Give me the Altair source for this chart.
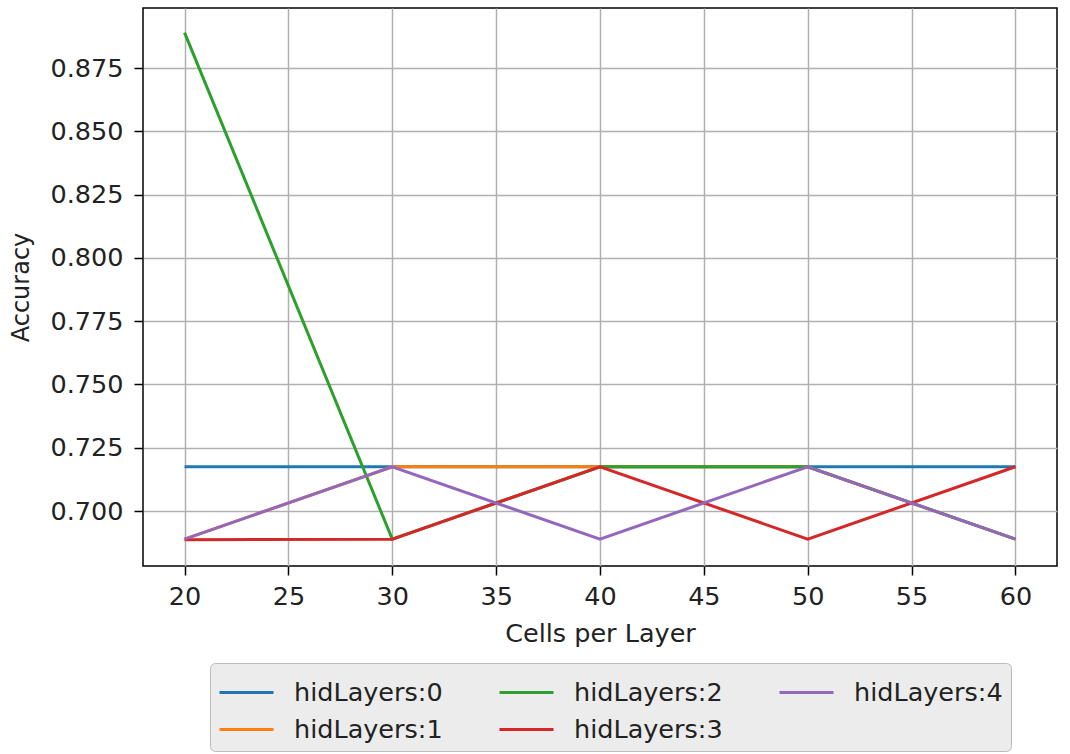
import altair as alt
import pandas as pd

cells = [20, 30, 40, 50, 60]
series_names = ["hidLayers:0", "hidLayers:1", "hidLayers:2", "hidLayers:3", "hidLayers:4"]
acc_0 = [0.7175, 0.7175, 0.7175, 0.7175, 0.7175]
acc_1 = [0.6889, 0.7175, 0.7175, 0.7175, 0.6889]
acc_2 = [0.8890, 0.6889, 0.7175, 0.7175, 0.6889]
acc_3 = [0.6887, 0.6889, 0.7175, 0.6889, 0.7175]
acc_4 = [0.6889, 0.7175, 0.6889, 0.7175, 0.6889]
colors = ["#1f77b4", "#ff7f0e", "#2ca02c", "#d62728", "#9467bd"]

rows = []
for name, vals in zip(series_names, [acc_0, acc_1, acc_2, acc_3, acc_4]):
    for c, v in zip(cells, vals):
        rows.append({"cells": c, "acc": v, "series": name})
df = pd.DataFrame(rows)

# legend is filled column by column in the reference
legend_order = [0, 2, 4, 1, 3]
dom = [series_names[i] for i in legend_order]
rng = [colors[i] for i in legend_order]

FONT = "DejaVu Sans"
FS = 25.5

chart = alt.Chart(df).mark_line(strokeWidth=3, clip=True).encode(
    x=alt.X("cells:Q", title="Cells per Layer",
            scale=alt.Scale(domain=[18, 62], nice=False, zero=False),
            axis=alt.Axis(values=[20, 25, 30, 35, 40, 45, 50, 55, 60], format="d",
                          tickSize=9, labelPadding=9, titlePadding=12)),
    y=alt.Y("acc:Q", title="Accuracy",
            scale=alt.Scale(domain=[0.6783, 0.8987], nice=False, zero=False),
            axis=alt.Axis(values=[0.700, 0.725, 0.750, 0.775, 0.800, 0.825, 0.850, 0.875],
                          format=".3f", tickSize=9, labelPadding=11, titlePadding=16,
                          titleFontSize=24)),
    color=alt.Color("series:N", scale=alt.Scale(domain=dom, range=rng),
                    legend=alt.Legend(title=None, orient="none", legendX=67, legendY=655,
                                      columns=3, direction="horizontal",
                                      symbolType="M-1.35,0H1.35", symbolSize=1600,
                                      symbolStrokeWidth=3, symbolOffset=7,
                                      labelFontSize=FS, labelFont=FONT, labelColor="#222222",
                                      columnPadding=50, rowPadding=2, labelOffset=26,
                                      fillColor="#ececec", strokeColor="#bbbbbb",
                                      cornerRadius=5, padding=8)),
).properties(
    width=914, height=558,
    padding={"left": 143, "top": 8, "right": 13, "bottom": 188},
    autosize=alt.AutoSizeParams(type="none"),
).configure_view(
    stroke="black", strokeWidth=1.5
).configure_axis(
    grid=True, gridColor="#b0b0b0", gridWidth=1.5,
    domain=False, tickColor="black", tickWidth=1.5,
    labelFont=FONT, labelFontSize=FS, labelColor="#222222",
    titleFont=FONT, titleFontSize=FS, titleFontWeight="normal", titleColor="#222222",
)

chart.save("out.html", embed_options={"renderer": "svg", "actions": False})
